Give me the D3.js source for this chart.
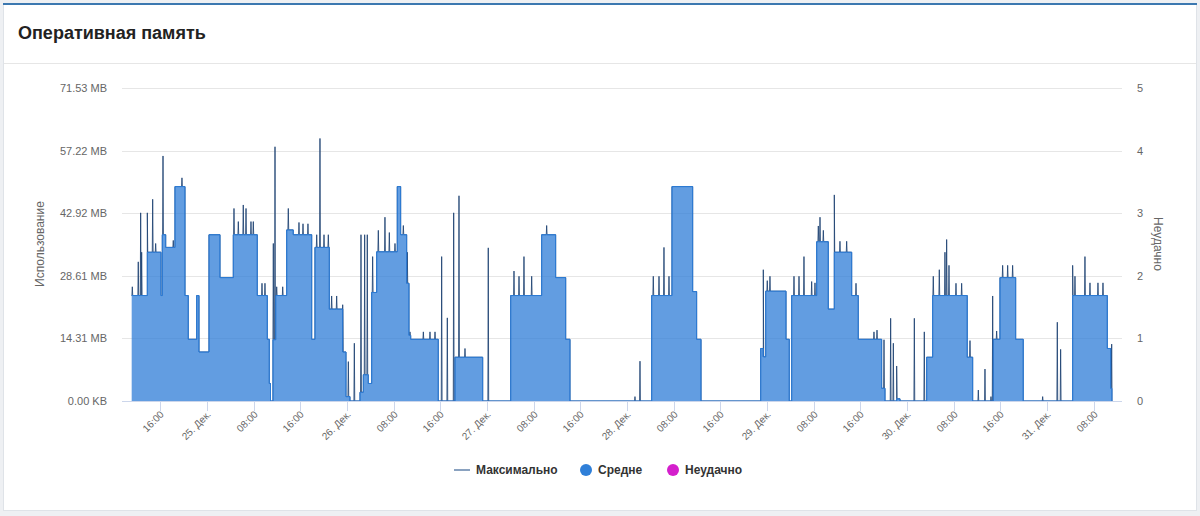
<!DOCTYPE html>
<html>
<head>
<meta charset="utf-8">
<script src="https://cdn.jsdelivr.net/npm/d3@7"></script>
<style>
  html, body { margin: 0; padding: 0; background: #eef0f3; }
  svg { display: block; font-family: "Liberation Sans", Arial, sans-serif; }
</style>
</head>
<body>
<svg id="chart" width="1200" height="516"></svg>
<script>
// hours counted from 24 Dec 00:00
const avgHours = [11.09, 13.77, 16.11, 16.34, 16.92, 18.51, 20.23, 20.79, 22.23, 22.63,
  24.34, 26.23, 28.51, 32.62, 34.34, 34.68, 34.89, 35.31, 35.78, 37.66,
  38.79, 41.95, 42.51, 44.97, 47.26, 47.83, 48.51, 50.23, 50.8, 51.65,
  52.23, 53.09, 56.62, 57.2, 58.23, 58.63, 58.92, 63.65, 66.51, 71.26,
  76.06, 81.37, 83.77, 85.49, 86.23, 100.23, 103.71, 107.26, 107.94, 108.69,
  118.92, 119.37, 119.78, 123.26, 123.82, 124.23, 128.52, 130.51, 131.54, 134.52,
  135.65, 139.66, 140.23, 142.23, 142.8, 147.37, 148.4, 154.33, 155.26, 158.79,
  159.94, 162.63, 163.93, 172.4, 178.34, 178.92, 179.14];
const avgValues = [24.1, 34.0, 24.1, 38.0, 35.1, 49.0, 24.1, 14.1, 24.1, 11.2,
  38.0, 28.2, 38.0, 24.1, 14.1, 4.0, 0, 14.0, 24.1, 39.1,
  38.0, 14.1, 35.1, 21.0, 11.2, 1.0, 0, 2.0, 6.0, 4.0,
  24.8, 34.1, 49.0, 38.0, 26.9, 15.0, 14.1, 0, 10.0, 0,
  24.1, 38.0, 28.2, 14.1, 0, 24.1, 49.0, 25.0, 14.1, 0,
  12.0, 10.1, 25.1, 14.1, 0, 24.1, 36.4, 21.0, 34.0, 24.1,
  14.1, 2.9, 0, 0.5, 0, 10.0, 24.1, 10.0, 0, 14.1,
  28.2, 14.1, 0, 24.1, 12.0, 2.9, 0];

const spikeHours = [11.2, 12.22, 12.63, 12.8, 13.77, 14.69, 15.2, 16.46, 18.22, 19.71,
  28.63, 29.37, 30.22, 30.69, 31.54, 31.94, 33.43, 33.94, 35.37, 35.66,
  35.95, 36.98, 37.94, 39.77, 40.46, 41.31, 42.81, 43.37, 44.06, 44.8,
  45.37, 46.23, 47.26, 48.23, 49.26, 50.4, 51.03, 51.48, 52.4, 53.37,
  54.51, 55.26, 56.23, 57.66, 58.34, 58.8, 61.09, 62.23, 63.09, 64.23,
  65.2, 66.29, 67.2, 68.23, 72.22, 76.63, 77.49, 78.34, 79.66, 82.23,
  97.37, 98.23, 100.51, 101.49, 102.34, 103.2, 119.37, 120.05, 120.51, 124.63,
  125.49, 126.34, 127.66, 128.23, 128.8, 129.09, 129.66, 131.54, 132.51, 133.66,
  135.26, 138.34, 138.86, 140.06, 141.2, 141.66, 142.23, 145.26, 146.97, 148.51,
  149.54, 150.51, 150.8, 151.2, 152.4, 153.37, 154.8, 156.23, 157.37, 158.4,
  158.69, 159.37, 160.4, 161.26, 162.11, 167.26, 169.77, 170.34, 172.4, 172.8,
  174.51, 175.37, 176.74, 177.6, 179.09];
const spikeValues = [26.1, 31.8, 43.0, 34.0, 43.0, 46.1, 36.0, 56.0, 36.7, 51.0,
  44.0, 41.0, 44.8, 44.0, 41.0, 41.0, 26.9, 26.9, 36.0, 58.1,
  26.1, 26.1, 44.0, 40.8, 40.5, 40.5, 38.0, 60.0, 38.0, 38.0,
  24.0, 24.0, 22.0, 9.0, 13.2, 38.0, 38.0, 38.0, 33.0, 39.0,
  42.0, 38.5, 36.0, 40.1, 34.0, 15.8, 15.8, 15.8, 15.8, 33.0,
  19.0, 43.0, 46.9, 12.0, 35.0, 29.7, 28.5, 33.0, 28.5, 40.1,
  1.0, 9.1, 28.5, 28.5, 35.1, 28.5, 30.0, 27.5, 28.5, 28.5,
  28.5, 33.0, 27.3, 27.0, 40.0, 42.0, 39.0, 47.1, 36.5, 36.5,
  26.9, 15.8, 16.2, 14.0, 18.9, 13.2, 8.0, 18.9, 15.8, 28.5,
  30.0, 34.0, 36.9, 31.0, 26.9, 26.9, 13.8, 2.5, 7.3, 1.0,
  24.0, 16.0, 31.0, 31.0, 31.0, 1.0, 18.0, 11.8, 31.0, 28.5,
  33.0, 27.0, 27.0, 27.0, 13.0];

const leftTicks = [0, 14.31, 28.61, 42.92, 57.22, 71.53];
const leftLabels = ["0.00 KB", "14.31 MB", "28.61 MB", "42.92 MB", "57.22 MB", "71.53 MB"];
const rightTicks = [0, 1, 2, 3, 4, 5];
const tickHours = d3.range(16, 177, 8);
const monthShort = "Дек.";
const legendItems = ["Максимально", "Средне", "Неудачно"];
const legendColors = ["#8aa2c0", "#2f7fd8", "#d41fcc"];

const base = new Date(2023, 11, 24, 0, 0);
const toDate = h => new Date(base.getTime() + h * 3600 * 1000);

const svg = d3.select("#chart");

// card
svg.append("rect").attr("x", 3.5).attr("y", 3.5).attr("width", 1193).attr("height", 507)
  .attr("fill", "#fff").attr("stroke", "#dfe3e8");
svg.append("rect").attr("x", 3).attr("y", 3).attr("width", 1194).attr("height", 2)
  .attr("fill", "#3c78b0");
svg.append("line").attr("x1", 4).attr("x2", 1196).attr("y1", 63.5).attr("y2", 63.5)
  .attr("stroke", "#e6e6e6");
svg.append("text").attr("x", 18).attr("y", 39).attr("font-size", 18).attr("font-weight", "bold")
  .attr("fill", "#222").text("Оперативная память");

const x = d3.scaleTime().domain([toDate(9.43), toDate(180.86)]).range([122, 1122]);
const y = d3.scaleLinear().domain([0, 71.53]).range([401, 88]);
const yR = d3.scaleLinear().domain([0, 5]).range([401, 88]);

// grid
svg.append("g").selectAll("line").data(leftTicks.slice(1)).join("line")
  .attr("x1", 122).attr("x2", 1122)
  .attr("y1", d => Math.round(y(d)) + 0.5).attr("y2", d => Math.round(y(d)) + 0.5)
  .attr("stroke", "#e6e6e6");

// left axis labels
svg.append("g").selectAll("text").data(leftTicks).join("text")
  .attr("x", 107).attr("y", d => y(d) + 4)
  .attr("text-anchor", "end").attr("font-size", 11).attr("fill", "#666")
  .text((d, i) => leftLabels[i]);
svg.append("text").attr("transform", "translate(44,244) rotate(-90)")
  .attr("text-anchor", "middle").attr("font-size", 12).attr("fill", "#666").text("Использование");

// right axis labels
svg.append("g").selectAll("text").data(rightTicks).join("text")
  .attr("x", 1137).attr("y", d => yR(d) + 4)
  .attr("text-anchor", "start").attr("font-size", 11).attr("fill", "#666")
  .text(d => d);
svg.append("text").attr("transform", "translate(1154,244) rotate(90)")
  .attr("text-anchor", "middle").attr("font-size", 12).attr("fill", "#666").text("Неудачно");

// max line: average steps with spikes
const avgAt = h => {
  let v = 0;
  for (let i = 0; i < avgHours.length; i++) { if (avgHours[i] <= h) v = avgValues[i]; }
  return v;
};
let maxPts = [];
avgHours.forEach((h, i) => {
  if (i > 0) maxPts.push([h, avgValues[i - 1]]);
  maxPts.push([h, avgValues[i]]);
});
spikeHours.forEach((h, i) => {
  maxPts.push([h - 0.07, avgAt(h - 0.07)]);
  maxPts.push([h, spikeValues[i]]);
  maxPts.push([h + 0.07, avgAt(h + 0.07)]);
});
maxPts = maxPts.map((p, i) => [p[0], p[1], i]).sort((a, b) => a[0] - b[0] || a[2] - b[2]);

svg.append("clipPath").attr("id", "plot").append("rect")
  .attr("x", 122).attr("y", 80).attr("width", 1000).attr("height", 322);
const plot = svg.append("g").attr("clip-path", "url(#plot)");

plot.append("path").datum(maxPts)
  .attr("fill", "none").attr("stroke", "#1d4272").attr("stroke-width", 1).attr("stroke-opacity", 0.85)
  .attr("d", d3.line().x(d => x(toDate(d[0]))).y(d => y(d[1])));

const avgData = avgHours.map((h, i) => [h, avgValues[i]]);
plot.append("path").datum(avgData)
  .attr("fill", "#2b7bd6").attr("fill-opacity", 0.74)
  .attr("d", d3.area().curve(d3.curveStepAfter).x(d => x(toDate(d[0]))).y0(y(0)).y1(d => y(d[1])));
plot.append("path").datum(avgData)
  .attr("fill", "none").attr("stroke", "#2b7bd6").attr("stroke-width", 1)
  .attr("d", d3.line().curve(d3.curveStepAfter).x(d => x(toDate(d[0]))).y(d => y(d[1])));

// x axis
svg.append("line").attr("x1", 122).attr("x2", 1122).attr("y1", 401.5).attr("y2", 401.5)
  .attr("stroke", "#ccd6eb");
const xt = svg.append("g").selectAll("g").data(tickHours).join("g")
  .attr("transform", d => `translate(${Math.round(x(toDate(d))) + 0.5},401)`);
xt.append("line").attr("y1", 0).attr("y2", 10).attr("stroke", "#ccd6eb");
xt.append("text").attr("transform", "translate(4,14) rotate(-45)")
  .attr("text-anchor", "end").attr("font-size", 10).attr("fill", "#666")
  .text(d => {
    const dt = toDate(d);
    if (dt.getHours() === 0) return dt.getDate() + ". " + monthShort;
    return d3.timeFormat("%H:%M")(dt);
  });

// legend
const lg = svg.append("g").attr("font-size", 12).attr("font-weight", "bold").attr("fill", "#333");
const legendX = [454, 580, 667];
legendItems.forEach((name, i) => {
  const g = lg.append("g").attr("transform", `translate(${legendX[i]},470)`);
  if (i === 0) {
    g.append("line").attr("x1", 0).attr("x2", 16).attr("stroke", legendColors[i]).attr("stroke-width", 2);
  } else {
    g.append("circle").attr("cx", 6).attr("cy", 0).attr("r", 6).attr("fill", legendColors[i]);
  }
  g.append("text").attr("x", i === 0 ? 22 : 18).attr("y", 4).text(name);
});
</script>
</body>
</html>
